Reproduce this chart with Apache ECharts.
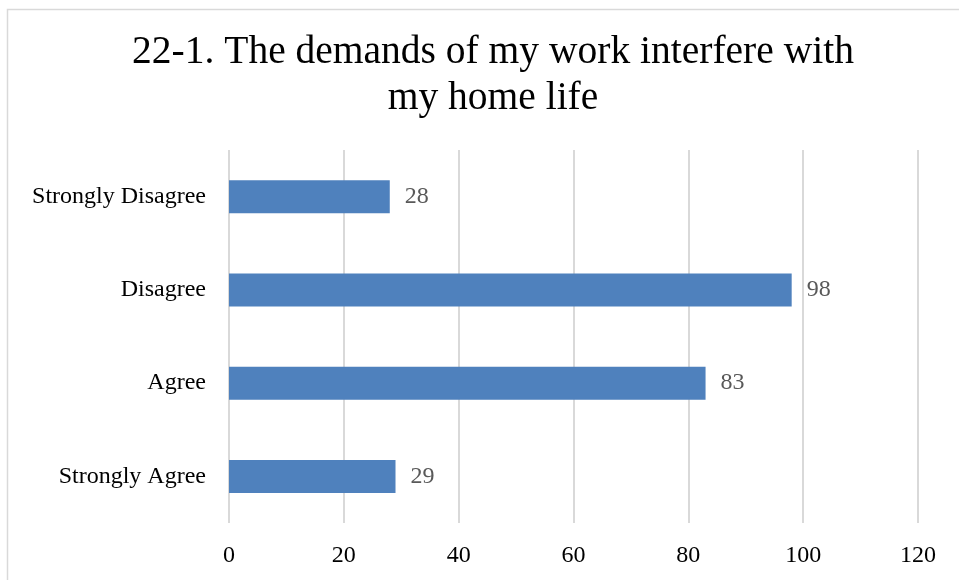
<!DOCTYPE html>
<html lang="en">
<head>
    <meta charset="UTF-8">
    <title>22-1 chart</title>
    <script src="https://cdn.jsdelivr.net/npm/echarts@6/dist/echarts.min.js"></script>
</head>
<body style="margin: 0">
<div id="chart" style="width: 959px; height: 580px"></div>
<script>
    // data
    let categories = ['Strongly Disagree', 'Disagree', 'Agree', 'Strongly Agree'];
    let counts = [28, 98, 83, 29];
    let titleText = '22-1. The demands of my work interfere with\nmy home life';

    let fontName = 'Liberation Serif';
    let myChart = echarts.init(document.getElementById('chart'));

    let option = {
        animation: false,
        backgroundColor: '#ffffff',
        title: {
            text: titleText,
            left: 488,
            top: 25,
            textAlign: 'center',
            textStyle: {
                fontFamily: fontName,
                fontWeight: 'normal',
                fontSize: 39.5,
                lineHeight: 46,
                color: '#000000'
            }
        },
        graphic: [{
            type: 'rect',
            shape: {x: 7.5, y: 9.5, width: 1000, height: 700},
            style: {fill: 'none', stroke: '#d9d9d9', lineWidth: 1.5},
            silent: true
        }],
        grid: {left: 229, right: 41, top: 150, bottom: 57},
        xAxis: {
            type: 'value',
            min: 0,
            max: 120,
            interval: 20,
            axisLine: {show: false},
            axisTick: {show: false},
            splitLine: {show: true, lineStyle: {color: '#d9d9d9', width: 2}},
            axisLabel: {
                margin: 21,
                fontFamily: fontName,
                fontSize: 24,
                color: '#000000'
            }
        },
        yAxis: {
            type: 'category',
            inverse: true,
            data: categories,
            axisLine: {show: false},
            axisTick: {show: false},
            axisLabel: {
                margin: 23,
                fontFamily: fontName,
                fontSize: 24,
                color: '#000000'
            }
        },
        series: [{
            type: 'bar',
            data: counts,
            barWidth: 33,
            itemStyle: {color: '#4f81bd'},
            label: {
                show: true,
                position: 'right',
                distance: 15,
                fontFamily: fontName,
                fontSize: 24,
                color: '#595959'
            }
        }]
    };
    myChart.setOption(option);
</script>
</body>
</html>
